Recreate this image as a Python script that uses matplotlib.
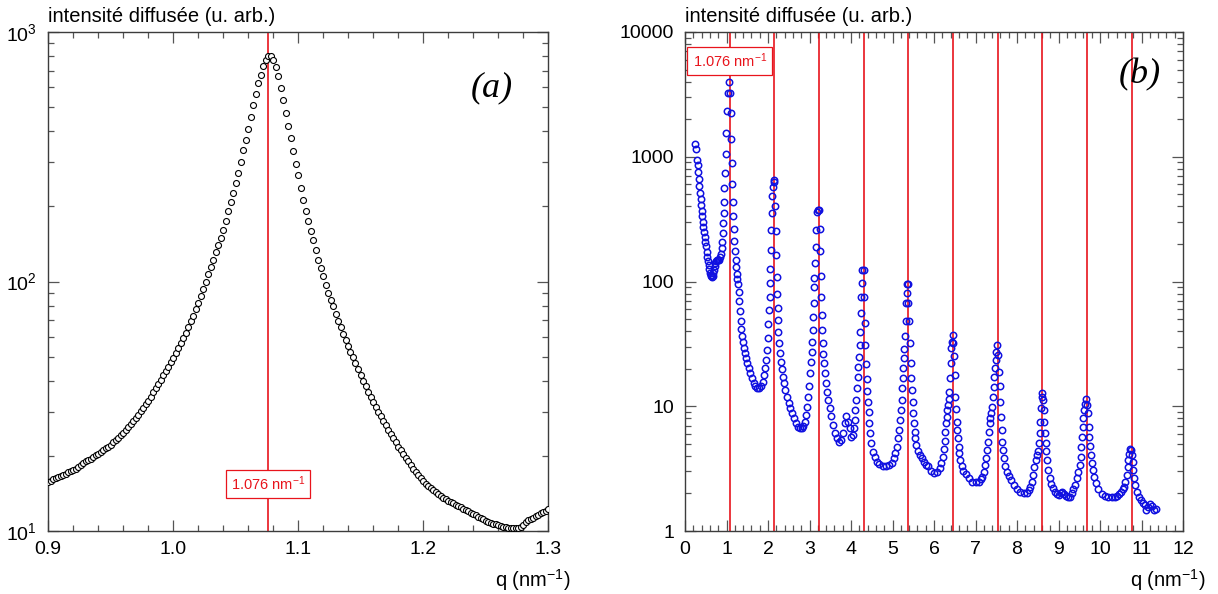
import numpy as np
import matplotlib
matplotlib.use('Agg')
import matplotlib.pyplot as plt
from matplotlib.ticker import MultipleLocator, FixedLocator, FixedFormatter, FormatStrFormatter
from matplotlib.transforms import blended_transform_factory

plt.rcParams['font.family'] = ['Liberation Sans', 'DejaVu Sans']
plt.rcParams['mathtext.fontset'] = 'custom'
plt.rcParams['mathtext.rm'] = 'Liberation Sans'
plt.rcParams['mathtext.it'] = 'Liberation Sans:italic'
plt.rcParams['mathtext.bf'] = 'Liberation Sans:bold'

# ---- panel (a): zoom on the first peak, q step 0.002 nm-1 ----
q_a = np.linspace(0.9, 1.3, 201)
I_a = [15.7, 15.9, 16.1, 16.3, 16.5, 16.6, 16.8, 17.0, 17.2, 17.4, 17.6,
       17.8, 18.1, 18.4, 18.7, 19.0, 19.3, 19.5, 19.8, 20.1, 20.4,
       20.8, 21.1, 21.5, 21.8, 22.2, 22.7, 23.2, 23.7, 24.2, 24.7,
       25.4, 26.1, 26.8, 27.5, 28.4, 29.2, 30.2, 31.2, 32.2, 33.3,
       34.6, 36.0, 37.5, 39.0, 40.4, 42.0, 43.7, 45.5, 47.4, 49.3,
       51.6, 54.1, 56.7, 59.4, 62.1, 65.5, 69.3, 73.0, 77.5, 82.0,
       87.5, 93.5, 100, 107, 114, 122, 131, 140, 150, 161,
       175, 191, 208, 227, 248, 271, 302, 336, 370, 407,
       456, 509, 562, 622, 674, 730, 769, 801,
       801, 772, 726, 666, 598, 533, 474, 419, 376, 333, 296, 266,
       237, 213, 192, 175, 159, 146, 134, 122, 113, 105,
       97.1, 89.9, 84.6, 79.5, 74.3, 69.7, 65.7, 61.7, 58.4, 54.9,
       52.4, 49.6, 47.1, 44.5, 42.3, 40.1, 38.2, 36.2, 34.6, 33.0,
       31.5, 30.1, 28.9, 27.7, 26.6, 25.4, 24.5, 23.5, 22.7, 21.8,
       21.1, 20.4, 19.7, 19.0, 18.4, 17.8, 17.3, 16.8, 16.3, 15.8,
       15.4, 15.2, 14.9, 14.6, 14.3, 14.1, 13.8, 13.6, 13.4, 13.2,
       13.1, 12.9, 12.75, 12.6, 12.45, 12.3, 12.15, 12.0, 11.85, 11.7,
       11.55, 11.4, 11.3, 11.2, 11.0, 10.9, 10.8, 10.7, 10.65, 10.6,
       10.5, 10.4, 10.35, 10.3, 10.3, 10.3, 10.25, 10.25, 10.35, 10.6,
       10.85, 11.05, 11.15, 11.3, 11.5, 11.6, 11.8, 11.9, 12.05, 12.2]

# ---- panel (b): full pattern ----
q_b = [0.253, 0.270, 0.293, 0.309, 0.317, 0.333, 0.349, 0.365, 0.381, 0.389,
       0.405, 0.421, 0.429, 0.445, 0.461, 0.477, 0.493, 0.509, 0.525, 0.541,
       0.557, 0.573, 0.589, 0.605, 0.621, 0.637, 0.653, 0.669, 0.685, 0.702,
       0.718, 0.734, 0.757, 0.781, 0.805, 0.828, 0.852, 0.868, 0.884, 0.900,
       0.916, 0.924, 0.932, 0.940, 0.948, 0.964, 0.980, 0.988, 1.012, 1.044,
       1.068, 1.084, 1.100, 1.116, 1.132, 1.140, 1.156, 1.164, 1.180, 1.188,
       1.204, 1.220, 1.236, 1.252, 1.260, 1.276, 1.292, 1.308, 1.324, 1.340,
       1.356, 1.372, 1.395, 1.419, 1.443, 1.467, 1.499, 1.531, 1.571, 1.611,
       1.651, 1.691, 1.739, 1.787, 1.835, 1.875, 1.907, 1.931, 1.955, 1.971,
       1.995, 2.011, 2.027, 2.043, 2.050, 2.058, 2.074, 2.082, 2.098, 2.106,
       2.130, 2.146, 2.154, 2.178, 2.194, 2.202, 2.218, 2.226, 2.234, 2.242,
       2.250, 2.266, 2.282, 2.306, 2.330, 2.354, 2.386, 2.418, 2.458, 2.498,
       2.538, 2.578, 2.617, 2.665, 2.713, 2.761, 2.809, 2.849, 2.881, 2.913,
       2.937, 2.961, 2.985, 3.009, 3.033, 3.049, 3.065, 3.073, 3.089, 3.097,
       3.105, 3.113, 3.129, 3.145, 3.161, 3.177, 3.201, 3.225, 3.257, 3.265,
       3.273, 3.289, 3.297, 3.305, 3.321, 3.337, 3.352, 3.368, 3.392, 3.416,
       3.448, 3.488, 3.528, 3.576, 3.624, 3.672, 3.720, 3.768, 3.808, 3.848,
       3.888, 3.927, 3.967, 4.007, 4.039, 4.063, 4.087, 4.103, 4.127, 4.143,
       4.159, 4.175, 4.191, 4.207, 4.215, 4.231, 4.239, 4.255, 4.271, 4.303,
       4.311, 4.335, 4.343, 4.359, 4.375, 4.391, 4.407, 4.423, 4.439, 4.455,
       4.487, 4.527, 4.567, 4.622, 4.686, 4.766, 4.846, 4.926, 4.982, 5.030,
       5.070, 5.102, 5.133, 5.157, 5.181, 5.205, 5.221, 5.237, 5.253, 5.261,
       5.277, 5.285, 5.301, 5.317, 5.325, 5.341, 5.357, 5.373, 5.381, 5.397,
       5.421, 5.437, 5.453, 5.469, 5.485, 5.501, 5.517, 5.533, 5.549, 5.573,
       5.605, 5.653, 5.709, 5.764, 5.804, 5.844, 5.920, 6.000, 6.080, 6.136,
       6.176, 6.208, 6.232, 6.256, 6.272, 6.288, 6.304, 6.320, 6.336, 6.352,
       6.368, 6.384, 6.400, 6.416, 6.432, 6.448, 6.464, 6.480, 6.496, 6.512,
       6.528, 6.544, 6.560, 6.576, 6.592, 6.608, 6.632, 6.664, 6.704, 6.760,
       6.840, 6.920, 7.000, 7.080, 7.136, 7.168, 7.200, 7.232, 7.264, 7.288,
       7.312, 7.328, 7.344, 7.360, 7.384, 7.408, 7.424, 7.440, 7.456, 7.472,
       7.488, 7.504, 7.520, 7.536, 7.560, 7.584, 7.600, 7.616, 7.632, 7.648,
       7.664, 7.688, 7.720, 7.760, 7.808, 7.856, 7.920, 8.000, 8.080, 8.160,
       8.240, 8.288, 8.320, 8.352, 8.384, 8.416, 8.448, 8.480, 8.512, 8.528,
       8.544, 8.560, 8.576, 8.592, 8.608, 8.624, 8.640, 8.656, 8.672, 8.688,
       8.704, 8.720, 8.752, 8.784, 8.816, 8.856, 8.904, 8.960, 9.008, 9.056,
       9.096, 9.136, 9.184, 9.240, 9.280, 9.320, 9.360, 9.400, 9.440, 9.480,
       9.512, 9.536, 9.552, 9.568, 9.584, 9.600, 9.616, 9.632, 9.656, 9.688,
       9.704, 9.728, 9.744, 9.760, 9.776, 9.800, 9.824, 9.864, 9.904, 9.960,
       10.040, 10.120, 10.200, 10.280, 10.360, 10.416, 10.464, 10.504, 10.544, 10.576,
       10.608, 10.640, 10.664, 10.680, 10.696, 10.720, 10.736, 10.768, 10.784, 10.800,
       10.816, 10.840, 10.880, 10.928, 10.976, 11.040, 11.080, 11.120, 11.160, 11.216,
       11.264, 11.312, 11.344]
I_b = [1265, 1150, 942, 859, 750, 661, 583, 515, 456, 410,
       370, 335, 302, 275, 251, 229, 209, 191, 173, 158,
       146, 135, 126, 118, 112, 110, 108, 110, 116, 123,
       133, 141, 147, 148, 150, 150, 158, 166, 184, 209,
       243, 292, 352, 436, 558, 745, 1051, 1541, 2340, 3266,
       3954, 3222, 2230, 1397, 897, 604, 436, 337, 263, 212,
       177, 150, 130, 115, 104, 95.5, 82.8, 70.2, 58, 48.6,
       41.4, 36.6, 32.5, 29.1, 26.5, 24.2, 22.1, 20.1, 18.4, 16.7,
       15.5, 14.5, 13.9, 13.9, 14.5, 15.7, 17.8, 20.1, 23.4, 28.2,
       35, 46, 59, 75.6, 96.6, 127, 179, 259, 352, 484,
       575, 631, 652, 405, 254, 163, 109, 79, 61, 49,
       39.6, 31.9, 26.9, 22.8, 19.8, 17.3, 15.3, 13.5, 11.9, 10.7,
       9.6, 8.8, 8.0, 7.3, 6.86, 6.65, 6.65, 6.93, 7.5, 8.5,
       9.9, 11.9, 14.5, 18.4, 22.8, 27.4, 33, 40.8, 52.2, 66.8,
       90.9, 106, 140, 188, 259, 363, 374, 375, 262, 177,
       111, 74.7, 53.7, 40.8, 31.9, 26.2, 22.1, 18.4, 15.3, 13.1,
       11.2, 9.6, 8.3, 7.08, 6.07, 5.53, 5.2, 5.37, 6.07, 7.38,
       8.3, 7.5, 6.65, 5.7, 5.9, 6.65, 7.76, 9.3, 11.2, 13.9,
       17.3, 20.8, 25, 31, 39.6, 55.6, 75.6, 96.6, 124, 124,
       75.6, 46.8, 31, 21.8, 16.4, 13.3, 10.9, 9.06, 7.3, 6.07,
       5.05, 4.33, 3.95, 3.6, 3.42, 3.32, 3.32, 3.37, 3.53, 3.83,
       4.2, 4.75, 5.53, 6.45, 7.76, 9.33, 11.2, 13.9, 16.7, 20.1,
       24.2, 28.8, 36.6, 48.6, 67.6, 80.4, 95.5, 95, 67.6, 48.6,
       31.9, 22.4, 16.7, 13.5, 10.9, 8.8, 7.3, 6.25, 5.53, 4.9,
       4.41, 4.07, 3.83, 3.6, 3.39, 3.32, 3.05, 2.94, 2.98, 3.18,
       3.48, 3.94, 4.52, 5.3, 6.25, 7.3, 8.26, 9.33, 10.2, 11.4,
       13.1, 16.7, 22.4, 29.1, 33, 37.3, 31.9, 25.3, 17.8, 11.9,
       9.45, 7.5, 6.45, 5.53, 4.75, 4.25, 3.71, 3.32, 3.05, 2.85,
       2.64, 2.48, 2.47, 2.48, 2.59, 2.70, 2.99, 3.38, 3.83, 4.47,
       5.2, 6.25, 7.3, 8.0, 8.77, 9.93, 11.9, 14.2, 17.3, 20.1,
       23.5, 27.4, 31, 25.7, 18.9, 14.4, 10.9, 8.26, 6.45, 5.2,
       4.47, 3.83, 3.32, 2.99, 2.76, 2.57, 2.34, 2.16, 2.04, 2.0,
       2.02, 2.13, 2.27, 2.48, 2.81, 3.28, 3.71, 4.06, 4.41, 5.05,
       6.14, 7.5, 9.6, 11.9, 12.7, 11.2, 9.33, 7.5, 6.14, 5.1,
       4.41, 3.71, 3.08, 2.64, 2.38, 2.2, 2.04, 1.98, 1.95, 2.03,
       2.07, 1.98, 1.91, 1.86, 1.88, 2.0, 2.16, 2.34, 2.64, 2.99,
       3.38, 3.94, 4.75, 5.7, 6.86, 8.0, 9.33, 10.5, 11.4, 10.2,
       8.77, 6.86, 5.7, 4.8, 4.06, 3.48, 3.08, 2.73, 2.41, 2.16,
       1.98, 1.91, 1.88, 1.88, 1.88, 1.91, 1.98, 2.07, 2.16, 2.27,
       2.48, 2.81, 3.28, 3.71, 4.14, 4.52, 4.5, 4.06, 3.6, 3.08,
       2.64, 2.34, 2.07, 1.86, 1.77, 1.69, 1.62, 1.47, 1.57, 1.65,
       1.60, 1.47, 1.49]

q_peak = 1.076
peak_orders = [1, 2, 3, 4, 5, 6, 7, 8, 9, 10]
peak_label = '1.076 nm$^{-1}$'
ylabel = 'intensité diffusée (u. arb.)'
xlabel = 'q (nm$^{-1}$)'

red = '#e8141c'
spine_col = '#3c3c3c'

fig = plt.figure(figsize=(12.18, 5.94), dpi=100)
ax_a = fig.add_axes([48 / 1218, 63 / 594, 500 / 1218, 499 / 594])
ax_b = fig.add_axes([685 / 1218, 63 / 594, 498 / 1218, 499 / 594])

for ax in (ax_a, ax_b):
    ax.set_yscale('log')
    for s in ax.spines.values():
        s.set_color(spine_col)
        s.set_linewidth(1.0)
    ax.tick_params(which='both', direction='in', top=True, right=True,
                   color='#555555', labelsize=14, width=0.9)
    ax.tick_params(which='major', length=8)
    ax.tick_params(which='minor', length=4.5)
    ax.tick_params(axis='x', pad=7)
    ax.tick_params(axis='y', pad=8)
    ax.text(0.0, 1.012, ylabel, transform=ax.transAxes, fontsize=14.5,
            ha='left', va='bottom')
    ax.text(1.045, -0.098, xlabel, transform=ax.transAxes, fontsize=14.5,
            ha='right', va='center')

# panel (a)
ax_a.plot(q_a, I_a, 'o', ms=4.3, mfc='white', mec='black', mew=0.8, zorder=3)
ax_a.axvline(q_peak, color=red, lw=1.2, zorder=2)
ax_a.set_xlim(0.9, 1.3)
ax_a.set_ylim(10, 1000)
ax_a.xaxis.set_major_locator(MultipleLocator(0.1))
ax_a.xaxis.set_minor_locator(MultipleLocator(0.02))
ax_a.xaxis.set_major_formatter(FormatStrFormatter('%.1f'))
tr_a = blended_transform_factory(ax_a.transData, ax_a.transAxes)
ax_a.text(q_peak, 0.094, peak_label, transform=tr_a, color=red, fontsize=10.5,
          ha='center', va='center', zorder=5,
          bbox=dict(boxstyle='square,pad=0.35', fc='white', ec=red, lw=0.9))
ax_a.text(0.888, 0.888, '(a)', transform=ax_a.transAxes, fontsize=26,
          family='Liberation Serif', style='italic', ha='center', va='center')

# panel (b)
ax_b.plot(q_b, I_b, 'o', ms=4.6, mfc='none', mec='#1010e0', mew=1.1, zorder=3)
for n in peak_orders:
    ax_b.axvline(n * q_peak, color=red, lw=1.2, zorder=2)
ax_b.set_xlim(0, 12)
ax_b.set_ylim(1, 10000)
ax_b.xaxis.set_major_locator(MultipleLocator(1))
ax_b.xaxis.set_minor_locator(MultipleLocator(0.2))
ax_b.xaxis.set_major_formatter(FormatStrFormatter('%d'))
ax_b.yaxis.set_major_locator(FixedLocator([1, 10, 100, 1000, 10000]))
ax_b.yaxis.set_major_formatter(FixedFormatter(['1', '10', '100', '1000', '10000']))
tr_b = blended_transform_factory(ax_b.transData, ax_b.transAxes)
ax_b.text(q_peak, 0.942, peak_label, transform=tr_b, color=red, fontsize=10.5,
          ha='center', va='center', zorder=5,
          bbox=dict(boxstyle='square,pad=0.35', fc='white', ec=red, lw=0.9))
ax_b.text(0.914, 0.914, '(b)', transform=ax_b.transAxes, fontsize=26,
          family='Liberation Serif', style='italic', ha='center', va='center')

fig.savefig('out.png', dpi=100)
